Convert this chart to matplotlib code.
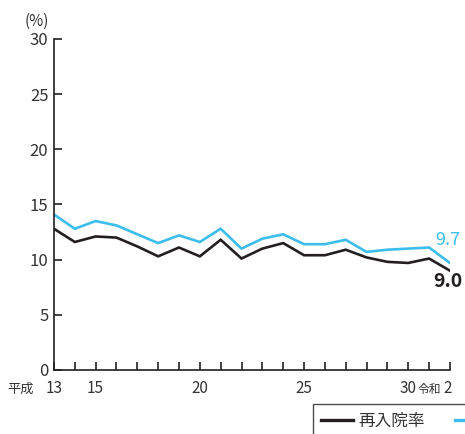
import matplotlib.pyplot as plt
from matplotlib.lines import Line2D

plt.rcParams['font.family'] = ['Noto Sans CJK JP', 'DejaVu Sans']

# 平成13年〜令和2年（令和2年 = 32）
years = list(range(13, 33))
readmit = [12.8, 11.6, 12.1, 12.0, 11.2, 10.3, 11.1, 10.3, 11.8, 10.1,
           11.0, 11.5, 10.4, 10.4, 10.9, 10.2, 9.8, 9.7, 10.1, 9.0]
readmit_etc = [14.1, 12.8, 13.5, 13.1, 12.3, 11.5, 12.2, 11.6, 12.8, 11.0,
               11.9, 12.3, 11.4, 11.4, 11.8, 10.7, 10.9, 11.0, 11.1, 9.7]
tick_pos = [13, 15, 20, 25, 30, 32]
tick_txt = ['13', '15', '20', '25', '30', '2']

black = '#231f20'
blue = '#3cbdec'
txt = '#333333'

fig = plt.figure(figsize=(4.65, 4.34), dpi=100)
ax = fig.add_axes([0.116, 0.1475, 0.8516, 0.7627])

ax.plot(years, readmit_etc, color=blue, lw=1.9, solid_joinstyle='miter')
ax.plot(years, readmit, color=black, lw=1.9, solid_joinstyle='miter')

ax.set_xlim(13, 32)
ax.set_ylim(0, 30)
ax.set_yticks(range(0, 31, 5))
ax.set_xticks(years, minor=True)
ax.set_xticks(tick_pos)
ax.set_xticklabels([])

for s in ['top', 'right']:
    ax.spines[s].set_visible(False)
for s in ['left', 'bottom']:
    ax.spines[s].set_color(black)
    ax.spines[s].set_linewidth(1.2)

ax.tick_params(axis='both', which='both', direction='in', length=6,
               width=1.2, color=black, labelsize=12, labelcolor=txt)
ax.tick_params(axis='y', pad=4)

# 横軸の目盛ラベル（元号つき）
for pos, lab in zip(tick_pos, tick_txt):
    x = 31.9 if lab == '2' else pos
    ax.text(x, -2.1, lab, ha='center', va='baseline', fontsize=11,
            color=txt, clip_on=False)
ax.text(12.04, -2.1, '平成', ha='right', va='baseline', fontsize=9.5,
        color=txt, clip_on=False)
ax.text(31.6, -2.1, '令和', ha='right', va='baseline', fontsize=8.5,
        color=txt, clip_on=False)
ax.text(12.18, 31.6, '(%)', ha='center', va='center', fontsize=11,
        color=txt, clip_on=False)

# 最新値
ax.text(31.9, readmit_etc[-1] + 2.1, f'{readmit_etc[-1]:.1f}', ha='center',
        va='center', fontsize=13, color=blue, clip_on=False)
ax.text(31.9, readmit[-1] - 1.0, f'{readmit[-1]:.1f}', ha='center',
        va='center', fontsize=14, fontweight='bold', color=black,
        clip_on=False)

handles = [Line2D([], [], color=black, lw=2.4),
           Line2D([], [], color=blue, lw=2.4)]
leg = fig.legend(handles, ['再入院率', ''], ncol=2,
                 loc='upper left', bbox_to_anchor=(313 / 465, 1 - 404 / 434),
                 borderaxespad=0, fontsize=12, frameon=True, fancybox=False,
                 handlelength=1.9, handletextpad=0.3, columnspacing=1.85,
                 borderpad=0.5, edgecolor=black, labelcolor=txt)
leg.get_frame().set_linewidth(1.0)

fig.savefig('out.png', dpi=100)
